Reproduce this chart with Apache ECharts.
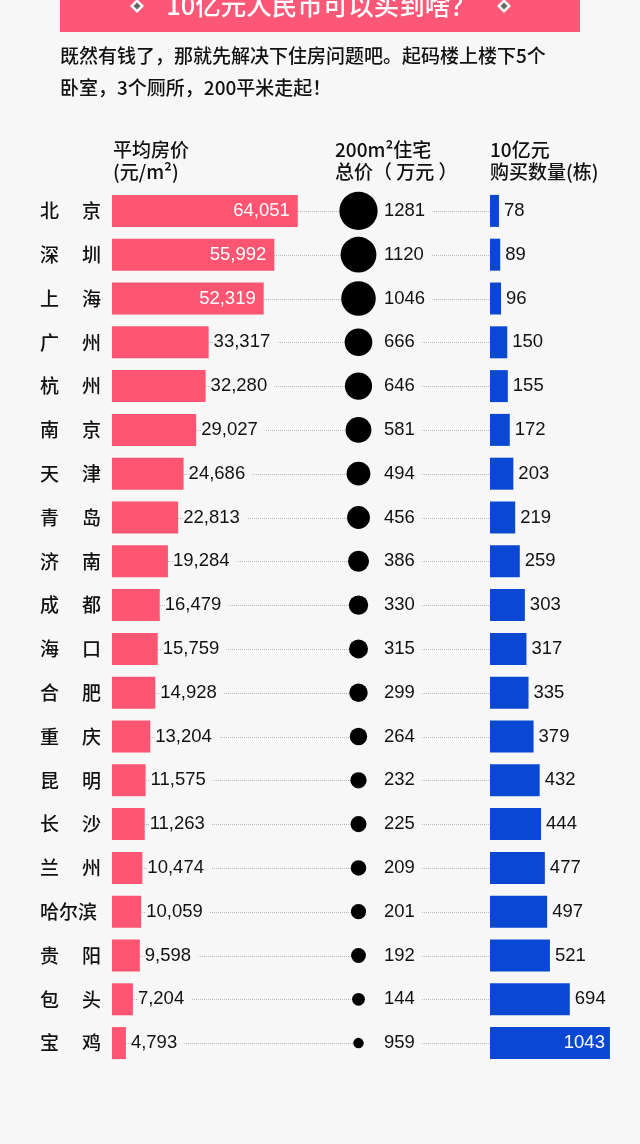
<!DOCTYPE html>
<html>
<head>
<meta charset="utf-8">
<script src="https://cdn.jsdelivr.net/npm/echarts@6/dist/echarts.min.js"></script>
<style>
  html, body { margin: 0; padding: 0; background: #f7f7f7; }
  #main { width: 640px; height: 1144px; }
</style>
</head>
<body>
<div id="main"></div>
<script>
const cities = ['北京', '深圳', '上海', '广州', '杭州', '南京', '天津', '青岛', '济南', '成都',
  '海口', '合肥', '重庆', '昆明', '长沙', '兰州', '哈尔滨', '贵阳', '包头', '宝鸡']
// average price, yuan per m2
const avgPrice = [64051, 55992, 52319, 33317, 32280, 29027, 24686, 22813, 19284, 16479,
  15759, 14928, 13204, 11575, 11263, 10474, 10059, 9598, 7204, 4793]
// 200m2 total, 10k yuan (last one printed as "959" in the source)
const totalPrice = [1281, 1120, 1046, 666, 646, 581, 494, 456, 386, 330,
  315, 299, 264, 232, 225, 209, 201, 192, 144, 95.9]
const totalLabels = ['1281', '1120', '1046', '666', '646', '581', '494', '456', '386', '330',
  '315', '299', '264', '232', '225', '209', '201', '192', '144', '959']
// houses for 1 billion yuan
const houseCount = [78, 89, 96, 150, 155, 172, 203, 219, 259, 303,
  317, 335, 379, 432, 444, 477, 497, 521, 694, 1043]

const BG = '#f7f7f7'
const PINK = '#fd5572'
const BLUE = '#0a48d4'
const FONT = "'Liberation Sans', 'Noto Sans CJK SC', sans-serif"
const CJK = "'Noto Sans CJK SC', sans-serif"

const chart = echarts.init(document.getElementById('main'))

const rowTop = 189
const rowHeight = 876

const catAxis = (gridIndex, showLabel) => ({
  type: 'category', gridIndex, data: cities, inverse: true,
  axisLine: { show: false }, axisTick: { show: false }, splitLine: { show: false },
  axisLabel: showLabel ? {
    show: true, align: 'left', margin: 72, color: '#111',
    formatter: n => n.length === 2 ? '{a|' + n[0] + '}{b|' + n[1] + '}' : '{a|' + n + '}',
    rich: {
      a: { fontFamily: CJK, fontSize: 19, fontWeight: 500, color: '#111' },
      b: { fontFamily: CJK, fontSize: 19, fontWeight: 500, color: '#111', padding: [0, 0, 0, 23] }
    }
  } : { show: false }
})
const valAxis = (gridIndex, min, max) => ({
  type: 'value', gridIndex, min, max, show: false
})

const header = (x, y, text) => ({
  type: 'text', left: x, top: y,
  style: { text, fill: '#111', font: '500 19px ' + CJK }
})

const diamond = (cx, cy) => ([
  { type: 'polygon', shape: { points: [[cx, cy - 7], [cx + 7, cy], [cx, cy + 7], [cx - 7, cy]] }, style: { fill: '#fff' } },
  { type: 'polygon', shape: { points: [[cx, cy - 3.5], [cx + 3.5, cy], [cx, cy + 3.5], [cx - 3.5, cy]] }, style: { fill: '#666' } }
])

const option = {
  backgroundColor: BG,
  animation: false,
  textStyle: { fontFamily: FONT },
  grid: [
    { left: 112, top: rowTop, width: 203, height: rowHeight },
    { left: 330, top: rowTop, width: 57, height: rowHeight },
    { left: 490, top: rowTop, width: 138, height: rowHeight },
    { left: 112, top: rowTop, width: 378, height: rowHeight }
  ],
  xAxis: [valAxis(0, 0, 70000), valAxis(1, -1, 1), valAxis(2, 0, 1200), valAxis(3, 0, 1)],
  yAxis: [catAxis(0, true), catAxis(1, false), catAxis(2, false), catAxis(3, false)],
  graphic: [
    { type: 'rect', shape: { x: 60, y: -10, width: 520, height: 42 }, style: { fill: '#fc5777' } },
    ...diamond(137, 6), ...diamond(504, 6),
    { type: 'text', x: 321, y: 5, style: { text: '10亿元人民币可以买到啥？', fill: '#fff', font: '500 25.5px ' + CJK, align: 'center', verticalAlign: 'middle' } },
    header(60, 46, '既然有钱了，那就先解决下住房问题吧。起码楼上楼下5个'),
    header(60, 78, '卧室，3个厕所，200平米走起！'),
    header(113, 140, '平均房价'),
    header(113, 162, '(元/m²)'),
    header(335, 140, '200m²住宅'),
    header(335, 162, '总价（ 万元 ）'),
    header(490, 140, '10亿元'),
    header(490, 162, '购买数量(栋)')
  ],
  series: [
    {
      // dotted guide lines behind everything
      type: 'custom', xAxisIndex: 3, yAxisIndex: 3, z: 1, silent: true,
      data: cities.map((c, i) => [0, i]),
      renderItem: (params, api) => {
        const a = api.coord([0, api.value(1)])
        const b = api.coord([1, api.value(1)])
        return {
          type: 'line',
          shape: { x1: a[0], y1: Math.round(a[1]) + 0.5, x2: b[0], y2: Math.round(b[1]) + 0.5 },
          style: { stroke: '#b8b8b8', lineWidth: 1, lineDash: [1, 1] }
        }
      }
    },
    {
      type: 'bar', xAxisIndex: 0, yAxisIndex: 0, z: 5, barWidth: 32,
      itemStyle: { color: PINK },
      data: avgPrice.map(v => ({
        value: v,
        label: v >= 50000
          ? { show: true, position: 'insideRight', distance: 8, color: '#fff', fontSize: 18.5, fontFamily: FONT, formatter: p => p.value.toLocaleString('en-US') }
          : { show: true, position: 'right', distance: 5, color: '#111', fontSize: 18.5, fontFamily: FONT, backgroundColor: BG, padding: [2, 7, 2, 0], formatter: p => p.value.toLocaleString('en-US') }
      }))
    },
    {
      // labels of the middle column, drawn under the dots
      type: 'scatter', xAxisIndex: 1, yAxisIndex: 1, z: 3, symbolSize: 1,
      itemStyle: { color: 'rgba(0,0,0,0)', opacity: 1 },
      data: totalLabels.map((t, i) => [0, i, t]),
      label: {
        show: true, position: 'right', distance: 0, color: '#111', fontSize: 18.5, fontFamily: FONT,
        backgroundColor: BG, padding: [2, 7, 2, 25], formatter: p => p.value[2]
      }
    },
    {
      type: 'scatter', xAxisIndex: 1, yAxisIndex: 1, z: 6,
      itemStyle: { color: '#000', opacity: 1 },
      symbolSize: v => 1.07 * Math.sqrt(v[2]),
      data: totalPrice.map((v, i) => [0, i, v])
    },
    {
      type: 'bar', xAxisIndex: 2, yAxisIndex: 2, z: 5, barWidth: 32,
      itemStyle: { color: BLUE },
      data: houseCount.map(v => ({
        value: v,
        label: v >= 1000
          ? { show: true, position: 'insideRight', distance: 5, color: '#fff', fontSize: 18.5, fontFamily: FONT }
          : { show: true, position: 'right', distance: 5, color: '#111', fontSize: 18.5, fontFamily: FONT }
      }))
    }
  ]
}

chart.setOption(option)
</script>
</body>
</html>
